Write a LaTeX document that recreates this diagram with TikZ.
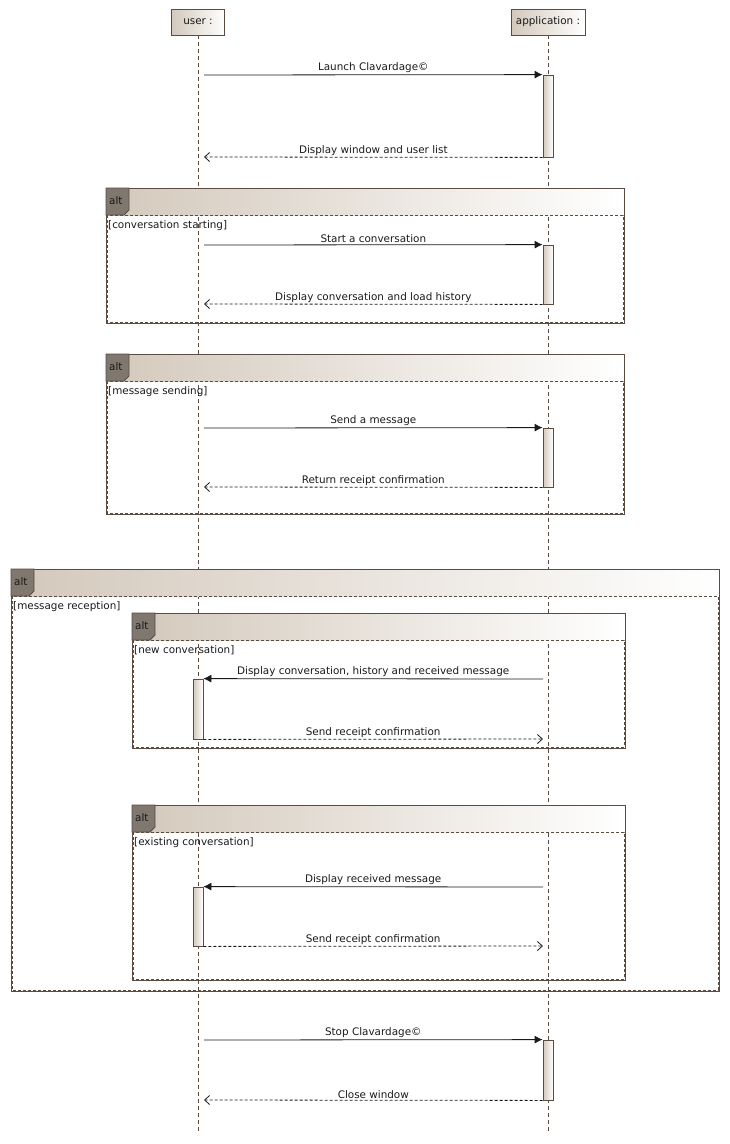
\documentclass[tikz,border=0pt]{standalone}
\usepackage{fontspec}
\setmainfont{DejaVu Sans}
\usetikzlibrary{arrows.meta}
\definecolor{umlline}{HTML}{5B4B40}
\definecolor{umltan}{HTML}{D3C8BB}
\definecolor{umltab}{HTML}{80776F}
\definecolor{umltext}{HTML}{1A1A1A}
\tikzset{
  umlfont/.style={font=\fontsize{10.4}{12}\selectfont, text=umltext},
  lifehead/.style={draw=umlline, line width=0.8, left color=umltan, right color=white,
    minimum height=26, inner xsep=2, umlfont},
  lifeline/.style={draw=umlline, line width=0.8, dash pattern=on 4pt off 3pt},
  actbar/.style={draw=umlline, line width=0.8, left color=umltan, right color=white,
    minimum width=10, inner sep=0},
  callmsg/.style={draw=umltext, line width=0.8, -{Latex[length=8,width=8]}},
  retmsg/.style={draw=umltext, line width=0.8, dash pattern=on 3pt off 2pt,
    -{Straight Barb[length=5,width=9]}},
  msglabel/.style={umlfont, midway, above, inner sep=1.5},
  fragline/.style={draw=umlline, line width=1},
  fragdash/.style={draw=umlline, line width=1, dash pattern=on 3pt off 2pt},
}
% alt fragment: #1 name, #2 left, #3 top, #4 right, #5 bottom, #6 guard
\newcommand\altfrag[6]{%
  \path[left color=umltan, right color=white] (#2,#3) rectangle ({#4},{#3+27});
  \draw[fragdash] ({#2+1},{#3+27}) rectangle ({#4-1},{#5-1});
  \draw[fragline] (#2,#3) rectangle (#4,#5);
  \draw[draw=umlline, line width=0.8, fill=umltab]
    (#2,#3) -- ++(23,0) -- ++(0,22) -- ++(-5,5) -- ++(-18,0) -- cycle;
  \node[umlfont, anchor=west, inner sep=0] (#1-kw) at ({#2+3},{#3+13}) {alt};
  \node[umlfont, anchor=north west, inner sep=0] (#1-guard) at ({#2+2},{#3+32}) {[#6]};
}
\begin{document}
\begin{tikzpicture}[x=1pt, y=-1pt]
\useasboundingbox (0,0) rectangle (730,1144);

% lifelines
\node[lifehead, minimum width=53] (user) at (198,22) {user :};
\node[lifehead, minimum width=74] (app) at (548,22) {application :};
\coordinate (userend) at (198,1134);
\coordinate (append) at (548,1134);
\draw[lifeline] (user.south) -- (userend);
\draw[lifeline] (app.south) -- (append);

% combined fragments
\altfrag{fstart}{106}{188}{624}{323}{conversation starting}
\altfrag{fsend}{106}{354}{624}{514}{message sending}
\altfrag{frecv}{11}{569}{719}{991}{message reception}
\altfrag{fnew}{132}{613}{625}{748}{new conversation}
\altfrag{fexist}{132}{805}{625}{980}{existing conversation}

% activation bars
\node[actbar, minimum height=82] (act1) at (548,116) {};
\node[actbar, minimum height=59] (act2) at (548,274.5) {};
\node[actbar, minimum height=59] (act3) at (548,457.5) {};
\node[actbar, minimum height=60] (act4) at (198,709) {};
\node[actbar, minimum height=59] (act5) at (198,916.5) {};
\node[actbar, minimum height=60] (act6) at (548,1070) {};

% message end points on the lifelines
\coordinate (u1) at (204,75);
\coordinate (u2) at (204,157);
\coordinate (u3) at (204,245);
\coordinate (u4) at (204,304);
\coordinate (u5) at (204,428);
\coordinate (u6) at (204,487);
\coordinate (p7) at (543,679);
\coordinate (p8) at (543,739);
\coordinate (p9) at (543,887);
\coordinate (p10) at (543,946);
\coordinate (u11) at (204,1040);
\coordinate (u12) at (204,1100);

% messages
\draw[callmsg] (u1) -- (act1.north west) node[msglabel] {Launch Clavardage©};
\draw[retmsg] (act1.south west) -- (u2) node[msglabel] {Display window and user list};
\draw[callmsg] (u3) -- (act2.north west) node[msglabel] {Start a conversation};
\draw[retmsg] (act2.south west) -- (u4) node[msglabel] {Display conversation and load history};
\draw[callmsg] (u5) -- (act3.north west) node[msglabel] {Send a message};
\draw[retmsg] (act3.south west) -- (u6) node[msglabel] {Return receipt confirmation};
\draw[callmsg] (p7) -- (act4.north east) node[msglabel] {Display conversation, history and received message};
\draw[retmsg] (act4.south east) -- (p8) node[msglabel] {Send receipt confirmation};
\draw[callmsg] (p9) -- (act5.north east) node[msglabel] {Display received message};
\draw[retmsg] (act5.south east) -- (p10) node[msglabel] {Send receipt confirmation};
\draw[callmsg] (u11) -- (act6.north west) node[msglabel] {Stop Clavardage©};
\draw[retmsg] (act6.south west) -- (u12) node[msglabel] {Close window};
\end{tikzpicture}
\end{document}
